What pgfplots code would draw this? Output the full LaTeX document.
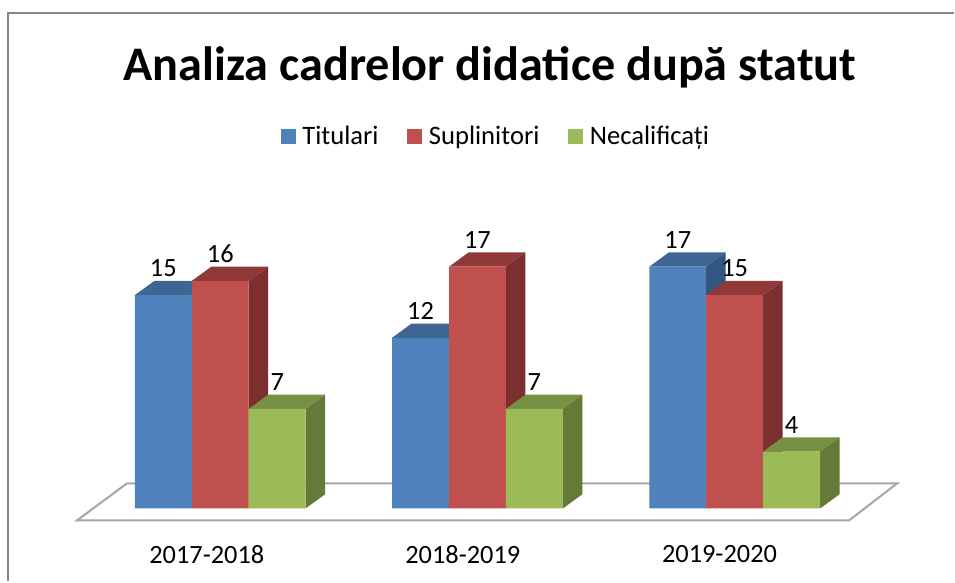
\documentclass[border=0pt]{standalone}
\usepackage{fontspec}
\usepackage{pgfplots}
\usepackage{pgfplotstable}
\pgfplotsset{compat=1.18}
\setmainfont{Carlito}

\definecolor{blueF}{HTML}{4F81BD}\definecolor{blueT}{HTML}{3F6592}\definecolor{blueS}{HTML}{33557F}
\definecolor{redF}{HTML}{C0504D}\definecolor{redT}{HTML}{8F3A39}\definecolor{redS}{HTML}{7B2F2E}
\definecolor{greenF}{HTML}{9BBB59}\definecolor{greenT}{HTML}{789043}\definecolor{greenS}{HTML}{657A38}

\pgfplotstableread{
x titulari suplinitori necalificati
0 15 16 7
1 12 17 7
2 17 15 4
}\cadre

% top and side face of one bar: group, offset in bars, value, colours
\newcommand{\faces}[5]{%
  \pgfmathsetmacro{\xl}{#1+(#2-0.5)*0.2214}%
  \pgfmathsetmacro{\xr}{\xl+0.2214}%
  \pgfmathsetmacro{\xld}{\xl+0.0757}%
  \pgfmathsetmacro{\xrd}{\xr+0.0757}%
  \pgfmathsetmacro{\vd}{#3+1}%
  \addplot[fill=#4,draw=none,forget plot] coordinates {(\xl,#3) (\xr,#3) (\xrd,\vd) (\xld,\vd)} --cycle;
  \addplot[fill=#5,draw=none,forget plot] coordinates {(\xr,0) (\xrd,1) (\xrd,\vd) (\xr,#3)} --cycle;
}

\begin{document}
\begin{tikzpicture}
\begin{axis}[
    scale only axis,
    width=716.25pt, height=436.5pt,
    xmin=-0.8563, xmax=2.8524,
    ymin=-5.128, ymax=35.757,
    clip=false,
    axis line style={draw=none},
    tick style={draw=none},
    ytick=\empty,
    xtick={-0.0524,0.943,1.941},
    xticklabels={2017-2018,2018-2019,2019-2020},
    x tick label style={anchor=center,yshift=20.25pt,font=\fontsize{19.8}{24}\selectfont},
    /pgf/number format/assume math mode=true,
    title={\fontsize{36.2}{44}\selectfont\bfseries Analiza cadrelor didatice după statut},
    title style={at={(rel axis cs:0.5136,0.871)},anchor=center,inner sep=0pt},
    legend columns=3,
    legend style={at={(rel axis cs:0.5201,0.765)},anchor=center,draw=none,fill=none,
        font=\fontsize{20}{24}\selectfont,
        /tikz/every odd column/.append style={column sep=3pt},
        /tikz/every even column/.append style={column sep=19.5pt}},
    legend image code/.code={\fill[#1] (0pt,-5.6pt) rectangle (11.25pt,5.6pt);},
    every node near coord/.append style={anchor=center,yshift=20.25pt,font=\fontsize{19.8}{24}\selectfont,text=black},
]
% chart frame, open on the right and at the bottom
\draw[color=gray!95,line width=1.6pt] (rel axis cs:0.00838,0) -- (rel axis cs:0.00838,0.9777) -- (rel axis cs:1,0.9777);

% floor
\addplot[fill=white,draw=black!35,line width=1.5pt,forget plot]
    coordinates {(-0.557,-0.843) (2.4447,-0.843) (2.6311,1.756) (-0.3631,1.756)} --cycle;

\faces{0}{-1}{15}{blueT}{blueS}
\faces{1}{-1}{12}{blueT}{blueS}
\faces{2}{-1}{17}{blueT}{blueS}
\addplot[ybar,bar width=42.75pt,bar shift=-42.75pt,fill=blueF,draw=none,
    nodes near coords,nodes near coords style={xshift=-42.75pt}]
    table[x=x,y=titulari] {\cadre};
\addlegendentry{Titulari}

\faces{0}{0}{16}{redT}{redS}
\faces{1}{0}{17}{redT}{redS}
\faces{2}{0}{15}{redT}{redS}
\addplot[ybar,bar width=42.75pt,bar shift=0pt,fill=redF,draw=none,nodes near coords]
    table[x=x,y=suplinitori] {\cadre};
\addlegendentry{Suplinitori}

\faces{0}{1}{7}{greenT}{greenS}
\faces{1}{1}{7}{greenT}{greenS}
\faces{2}{1}{4}{greenT}{greenS}
\addplot[ybar,bar width=42.75pt,bar shift=42.75pt,fill=greenF,draw=none,
    nodes near coords,nodes near coords style={xshift=42.75pt}]
    table[x=x,y=necalificati] {\cadre};
\addlegendentry{Necalificați}
\end{axis}
\end{tikzpicture}
\end{document}
